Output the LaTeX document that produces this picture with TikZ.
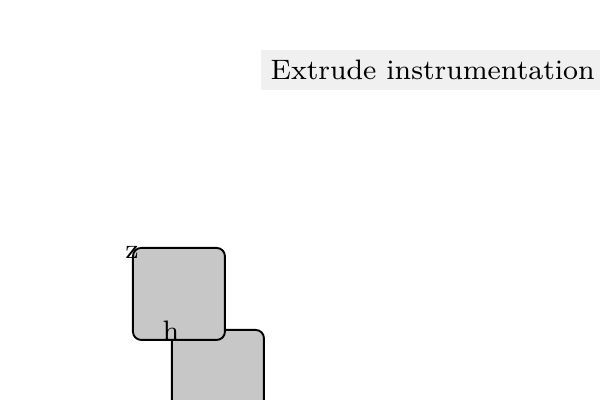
\documentclass[tikz,border=0pt]{standalone}
\begin{document}
\begin{tikzpicture}[x=0.29pt,y=-0.29pt,font=\fontsize{8.15}{9.8}\selectfont,
  block/.style={draw,line width=0.55pt,fill=black!22,rounded corners=2.4pt,
    minimum width=26.68pt,minimum height=26.68pt,inner sep=0pt,anchor=north west},
  tag/.style={text height=0.69em,text depth=0pt,inner sep=0pt},
  title/.style={fill=black!6,inner xsep=2.9pt,inner ysep=0pt,minimum height=11.6pt,anchor=west}]
  \useasboundingbox (0,0) rectangle (600,400);
  \node[block] (hbox) at (171,329) {};
  \node[block] (zbox) at (132,247) {};
  \node[tag] (zlabel) at (zbox.north west) {z};
  \node[tag] (hlabel) at (hbox.north west) {h};
  \node[title] (caption) at (260,70) {Extrude instrumentation};
\end{tikzpicture}
\end{document}
